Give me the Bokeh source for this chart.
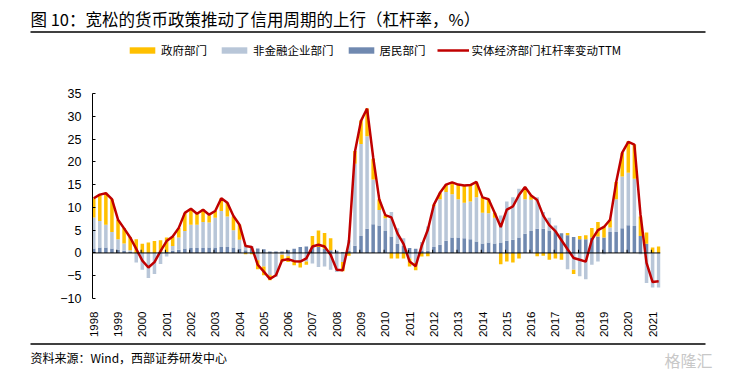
import numpy as np
from bokeh.plotting import figure
from bokeh.layouts import column
from bokeh.models import (Label, Legend, LegendItem, Span, FixedTicker,
                          ColumnDataSource, Range1d)
from bokeh.embed import file_html
from bokeh.resources import INLINE

# ---------------- data (quarterly, 1998Q1 .. 2021Q2) ----------------
years = [str(y) for y in range(1998, 2022)]
quarters = list(range(94))
year_pos = [4 * k for k in range(len(years))]

household = [1.0, 1.2, 1.2, 1.0, 0.7, 0.5, 0.2, 0.0, 0.0, 0.0, 0.0, 0.1, 0.2, 0.5, 0.7, 1.0,
             1.1, 1.1, 1.1, 1.2, 1.2, 1.3, 1.3, 1.2, 1.0, 0.6, 1.1, 1.0, 0.8, 0.3, 0.3, 0.3,
             0.6, 0.9, 1.3, 1.4, 1.3, 1.3, 0.9, 0.6, 0.5, 0.2, 0.4, 1.6, 3.7, 5.3, 6.3, 6.0,
             4.8, 3.6, 2.0, 1.5, 1.1, 0.9, 0.4, 0.5, 1.3, 1.8, 2.7, 3.4, 3.4, 3.2, 3.0, 2.5,
             2.1, 2.3, 2.1, 2.3, 2.7, 2.9, 3.4, 4.2, 4.8, 5.3, 5.3, 4.9, 4.8, 4.3, 3.9, 3.5,
             3.0, 3.0, 3.4, 3.6, 3.4, 4.6, 4.6, 5.4, 6.1, 5.9, 3.7, 2.0, 0.0, 0.0]

corporate = [6.8, 5.8, 5.0, 3.6, 2.3, 1.6, 0.4, -2.1, -3.7, -5.5, -4.6, -2.4, -0.8, 1.0, 2.7, 3.8,
             5.1, 5.1, 5.7, 5.5, 6.5, 7.9, 6.7, 3.8, 1.9, 1.2, 0.4, -1.6, -3.0, -4.9, -5.2, -0.4,
             -0.7, -1.9, -2.1, -1.9, -2.3, -3.1, -3.0, -3.7, -4.2, -2.0, 2.4, 18.0, 20.2, 20.3, 9.8, 3.4,
             2.8, 5.4, 3.4, 1.7, -1.2, -2.2, 2.0, 5.3, 9.0, 10.0, 10.7, 9.5, 8.4, 7.8, 8.3, 9.7,
             6.7, 6.4, 5.6, 5.9, 8.6, 9.3, 10.7, 7.6, 6.9, 6.9, 3.7, 2.8, 1.2, 0.0, -3.6, -3.7,
             -5.1, -5.8, -2.6, -1.9, -0.3, 1.0, 7.2, 11.4, 11.5, 10.4, -0.3, -6.6, -7.6, -7.6]

government = [4.2, 5.9, 7.0, 7.2, 4.3, 3.4, 2.9, 3.0, 2.0, 2.3, 2.6, 2.7, 3.2, 2.0, 2.1, 3.9,
              3.5, 2.4, 2.8, 1.6, 1.5, 2.8, 3.0, 3.0, 3.3, -0.3, -0.3, -2.0, -1.9, -1.1, 0.0, -1.5,
              -1.3, -0.8, -1.1, -0.7, 2.4, 3.6, 3.5, 2.6, 0.0, -2.0, -0.6, 2.8, 5.2, 6.1, 4.6, 2.4,
              0.7, -1.2, -1.2, -1.2, -1.8, -1.6, -0.8, -0.7, 0.3, 1.4, 1.6, 2.6, 3.2, 3.8, 3.6, 3.4,
              3.4, 3.1, 1.1, -2.5, -1.9, -2.1, -1.2, 2.7, 0.9, -0.7, -0.6, -1.5, -1.2, -1.5, 0.5, -0.9,
              0.7, 0.9, 2.1, 3.2, 2.4, 1.7, 3.8, 5.2, 6.9, 7.5, 4.3, 2.5, 1.2, 1.4]

ttm_total = [12.0, 12.8, 13.1, 11.8, 7.3, 5.4, 3.4, 0.9, -1.7, -3.2, -2.0, 0.4, 2.6, 3.6, 5.5, 8.8,
             9.7, 8.6, 9.5, 8.4, 9.2, 12.0, 11.0, 8.1, 6.2, 1.5, 1.3, -2.6, -4.1, -5.7, -4.9, -1.6,
             -1.4, -1.8, -1.9, -1.2, 1.4, 1.8, 1.4, -0.4, -3.7, -3.8, 2.4, 22.2, 29.0, 31.7, 21.0, 11.8,
             8.3, 7.8, 4.3, 2.0, -1.9, -2.9, 1.6, 5.1, 10.6, 13.2, 15.0, 15.5, 15.0, 14.8, 14.9, 15.6,
             12.2, 11.8, 8.8, 5.7, 9.5, 10.2, 12.7, 14.5, 12.6, 11.6, 8.2, 6.1, 4.8, 2.8, 0.8, -1.1,
             -1.5, -1.9, 2.9, 5.0, 5.7, 7.3, 15.5, 22.0, 24.4, 23.8, 8.5, -2.2, -6.4, -6.2]

y_ticks = list(range(-10, 36, 5))

series_names = ["政府部门", "非金融企业部门", "居民部门"]
line_name = "实体经济部门杠杆率变动TTM"
title_text = "图 10：宽松的货币政策推动了信用周期的上行（杠杆率，%）"
source_text = "资料来源：Wind，西部证券研发中心"

# ---------------- stacking (positives up, negatives down) ----------------
n = len(quarters)
pos = np.zeros(n)
neg = np.zeros(n)
stacks = []
for series in (household, corporate, government):
    v = np.array(series, dtype=float)
    base = np.where(v >= 0, pos, neg)
    top = base + v
    pos = np.where(v >= 0, top, pos)
    neg = np.where(v < 0, top, neg)
    stacks.append((base, top))

C_HOUSE, C_CORP, C_GOV, C_RED = "#7089B0", "#B8C6D8", "#FFC000", "#C00000"
CJK = "Noto Sans CJK SC"
W = 730
HEAD_H, MAIN_H, FOOT_H = 75, 265, 38


def blank_fig(h):
    f = figure(width=W, height=h, x_range=Range1d(0, W), y_range=Range1d(h, 0),
               output_backend="svg", toolbar_location=None,
               x_axis_type=None, y_axis_type=None,
               min_border=0, min_border_left=0, min_border_right=0,
               min_border_top=0, min_border_bottom=0, frame_align=False)
    f.outline_line_color = None
    f.grid.visible = False
    f.background_fill_color = "white"
    f.border_fill_color = "white"
    return f


# ---------------- header: title, rule, legend ----------------
head = blank_fig(HEAD_H)
head.add_layout(Label(x=30, y=18, text=title_text, text_font=CJK, text_font_size="16.5px",
                      text_baseline="middle", text_align="left", text_color="black"))
head.segment(x0=[30], y0=[31.5], x1=[705], y1=[31.5], line_color="black", line_width=1.3)

# legend swatch renderers (single point placed off-canvas)
lg_gov = head.vbar(x=[-100], top=[-100], width=1, fill_color=C_GOV, line_color=None)
lg_corp = head.vbar(x=[-100], top=[-100], width=1, fill_color=C_CORP, line_color=None)
lg_house = head.vbar(x=[-100], top=[-100], width=1, fill_color=C_HOUSE, line_color=None)
lg_line = head.line(x=[-100, -90], y=[-100, -100], line_color=C_RED, line_width=2.5)
legend = Legend(items=[LegendItem(label=series_names[0], renderers=[lg_gov]),
                       LegendItem(label=series_names[1], renderers=[lg_corp]),
                       LegendItem(label=series_names[2], renderers=[lg_house]),
                       LegendItem(label=line_name, renderers=[lg_line])],
                orientation="horizontal", location=(126, HEAD_H - 58),
                glyph_width=32, glyph_height=8, label_standoff=3, spacing=11,
                padding=0, margin=0, border_line_color=None, background_fill_alpha=0,
                label_text_font=CJK, label_text_font_size="11.5px",
                label_height=12, label_text_color="black")
head.add_layout(legend)

# ---------------- main chart ----------------
FRAME_TOP, FRAME_BOTTOM, FRAME_LEFT, FRAME_RIGHT = 93, 304, 92, 660
p = figure(width=W, height=MAIN_H, x_range=Range1d(-0.2, 93.3), y_range=Range1d(-10, 35),
           output_backend="svg", toolbar_location=None, frame_align=False,
           min_border_left=FRAME_LEFT, min_border_right=W - FRAME_RIGHT,
           min_border_top=FRAME_TOP - HEAD_H,
           min_border_bottom=HEAD_H + MAIN_H - FRAME_BOTTOM)
p.outline_line_color = None
p.grid.visible = False
p.background_fill_color = "white"
p.border_fill_color = "white"

for (base, top), col in zip(stacks, [C_HOUSE, C_CORP, C_GOV]):
    src = ColumnDataSource(dict(x=quarters, bottom=base, top=top))
    p.vbar(x="x", bottom="bottom", top="top", width=0.58, source=src,
           fill_color=col, line_color=None)

# small year tick marks standing on the zero line
tick_x = [q - 0.2 for q in year_pos[1:]]
p.segment(x0=tick_x, y0=0, x1=tick_x, y1=0.7, line_color="black", line_width=1)

p.line(quarters, ttm_total, line_color=C_RED, line_width=2.5)
p.add_layout(Span(location=0, dimension="width", line_color="black", line_width=1))

p.yaxis.ticker = FixedTicker(ticks=y_ticks)
p.yaxis.axis_line_color = "black"
p.yaxis.major_tick_in = 3
p.yaxis.major_tick_out = 0
p.yaxis.minor_tick_line_color = None
p.yaxis.major_label_standoff = 11
p.yaxis.major_label_text_font = "Liberation Sans"
p.yaxis.major_label_text_font_size = "12.5px"
p.yaxis.major_label_text_color = "black"

p.xaxis.ticker = FixedTicker(ticks=year_pos)
p.xaxis.major_label_overrides = {q: y for q, y in zip(year_pos, years)}
p.xaxis.axis_line_color = None
p.xaxis.major_tick_line_color = None
p.xaxis.minor_tick_line_color = None
p.xaxis.major_label_orientation = np.pi / 2
p.xaxis.major_label_standoff = 7
p.xaxis.major_label_text_font = "Liberation Sans"
p.xaxis.major_label_text_font_size = "11.5px"
p.xaxis.major_label_text_color = "black"

# ---------------- footer: rule, source, watermark ----------------
foot = blank_fig(FOOT_H)
Y0 = HEAD_H + MAIN_H
foot.segment(x0=[30], y0=[343.5 - Y0], x1=[705], y1=[343.5 - Y0], line_color="black", line_width=1.3)
foot.add_layout(Label(x=30, y=357 - Y0, text=source_text, text_font=CJK, text_font_size="12px",
                      text_baseline="middle", text_align="left", text_color="black"))
foot.add_layout(Label(x=664, y=359 - Y0, text="格隆汇", text_font=CJK, text_font_size="16px",
                      text_baseline="middle", text_align="left", text_color="#C8C8C8"))

layout = column(head, p, foot, spacing=0)
open("out.html", "w").write(file_html(layout, INLINE))
